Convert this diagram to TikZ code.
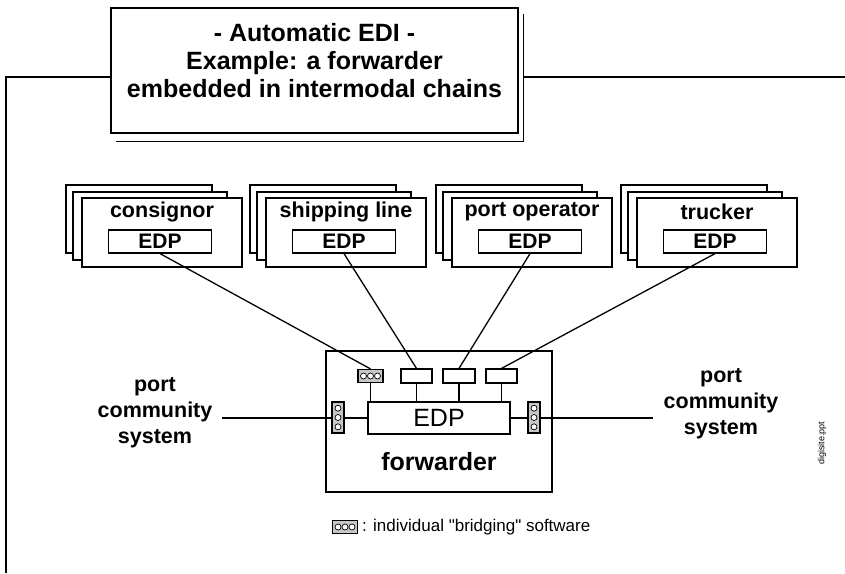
\documentclass[tikz,border=0pt]{standalone}
\usepackage{fontspec}
\setmainfont{Liberation Sans}
\usetikzlibrary{calc}

\tikzset{
  boxline/.style={draw=black, line width=1.2pt},
  thinline/.style={draw=black, line width=0.8pt},
  conn/.style={draw=black, line width=1.3pt},
  stacklabel/.style={inner sep=0pt, font=\fontsize{21.5}{24}\selectfont\bfseries},
  edpbox/.style={boxline, fill=white, minimum width=103pt, minimum height=23pt,
    inner sep=0pt, font=\fontsize{21}{24}\selectfont\bfseries},
  frontbox/.style={boxline, fill=white, minimum width=160pt, minimum height=69pt, inner sep=0pt},
  smallbox/.style={boxline, fill=white, minimum height=14pt, inner sep=0pt},
  bridgeh/.style={boxline, fill=black!22, inner sep=0pt, minimum width=25pt, minimum height=13pt,
    path picture={
      \foreach \t in {0.22,0.5,0.78}
        \draw[line width=0.7pt, fill=white]
          ($(path picture bounding box.west)!\t!(path picture bounding box.east)$) circle (3pt);
    }},
  bridgev/.style={boxline, fill=black!22, inner sep=0pt, minimum width=12pt, minimum height=31pt,
    path picture={
      \foreach \t in {0.2,0.5,0.8}
        \draw[line width=0.7pt, fill=white]
          ($(path picture bounding box.south)!\t!(path picture bounding box.north)$) circle (3pt);
    }},
  sidelabel/.style={inner sep=2pt, align=center, font=\fontsize{21.5}{26}\selectfont\bfseries},
}

% one partner: a stack of three cards with an EDP box on the front card
\newcommand\partnerstack[3]{% #1 name, #2 left edge of front card, #3 label
  \draw[boxline, fill=white] (#2-16,185) rectangle (#2+130,253);
  \draw[boxline, fill=white] (#2-9,192) rectangle (#2+145,260);
  \node[frontbox] (#1) at (#2+80,232.5) {};
  \node[stacklabel] (#1-label) at (#2+80,212) {#3};
  \node[edpbox] (#1-edp) at (#2+78,241.5) {EDP};
}

\begin{document}
\begin{tikzpicture}[x=1pt, y=-1pt]
\useasboundingbox (0,0) rectangle (845,573);

% title with its offset shadow
\node[boxline, fill=white, minimum width=407pt, minimum height=125pt, inner sep=0pt]
  (title) at (314.5,70.5) {};
\node[align=center, inner sep=0pt, font=\fontsize{25}{28}\selectfont\bfseries]
  (title-text) at (314.5,61) {- Automatic EDI -\\Example: a forwarder\\embedded in intermodal chains};
\draw[thinline] ([xshift=5pt,yshift=-7pt]title.north east) -- ([xshift=5pt,yshift=-8pt]title.south east)
  -- ([xshift=6pt,yshift=-8pt]title.south west);

% frame lines
\coordinate (fr-bl) at (6,573);
\coordinate (fr-tl) at (6,77);
\coordinate (fr-r) at (845,77);
\draw[boxline] (fr-bl) -- (fr-tl) -- (fr-tl -| title.west);
\draw[boxline] ([xshift=5pt]title.east |- fr-r) -- (fr-r);

% partners
\partnerstack{consignor}{82}{consignor}
\partnerstack{shipping}{266}{shipping line}
\partnerstack{portop}{452}{port operator}
\partnerstack{trucker}{637}{trucker}

% forwarder
\node[boxline, fill=white, minimum width=226pt, minimum height=141pt, inner sep=0pt]
  (fwd) at (439,421.5) {};
\node[inner sep=0pt, font=\fontsize{25}{28}\selectfont\bfseries] (fwd-label) at (439,462) {forwarder};
\node[boxline, fill=white, minimum width=142pt, minimum height=32pt, inner sep=0pt,
  font=\fontsize{25}{28}\selectfont] (fedp) at (439,418) {EDP};

\node[bridgeh] (s1) at (370.5,376) {};
\node[smallbox, minimum width=31pt] (s2) at (416.5,376) {};
\node[smallbox, minimum width=32pt] (s3) at (459,376) {};
\node[smallbox, minimum width=31pt] (s4) at (501.5,376) {};
\foreach \s in {s1,s2,s3,s4}
  \draw[conn] (\s.south) -- (\s.south |- fedp.north);

\node[bridgev] (lb) at (338,417.5) {};
\node[bridgev] (rb) at (534,417.5) {};

% links from the partners to the forwarder
\draw[conn] (consignor-edp.south) -- (s1.north);
\draw[conn] (shipping-edp.south) -- (s2.north);
\draw[conn] (portop-edp.south) -- (s3.north);
\draw[conn] (trucker-edp.south) -- (s4.north);

% port community systems
\node[sidelabel] (pcsL) at (155,413) {port\\community\\system};
\node[sidelabel] (pcsR) at (721,404) {port\\community\\system};
\coordinate (pcsL-end) at (222,418);
\coordinate (pcsR-end) at (653,418);
\draw[conn] (pcsL-end) -- (pcsL-end -| lb.west);
\draw[conn] (lb.east |- fedp.west) -- (fedp.west);
\draw[conn] (fedp.east) -- (fedp.east -| rb.west);
\draw[conn] (rb.east |- pcsR-end) -- (pcsR-end);

% legend
\node[bridgeh] (legend-icon) at (345,527) {};
\node[anchor=west, inner sep=0pt, font=\fontsize{17}{20}\selectfont]
  (legend-text) at (362,527) {: individual \textquotedbl bridging\textquotedbl\ software};

% file tag
\node[rotate=90, inner sep=0pt, font=\fontsize{9}{10}\selectfont] (tag) at (822,443) {digisite.ppt};
\end{tikzpicture}
\end{document}
